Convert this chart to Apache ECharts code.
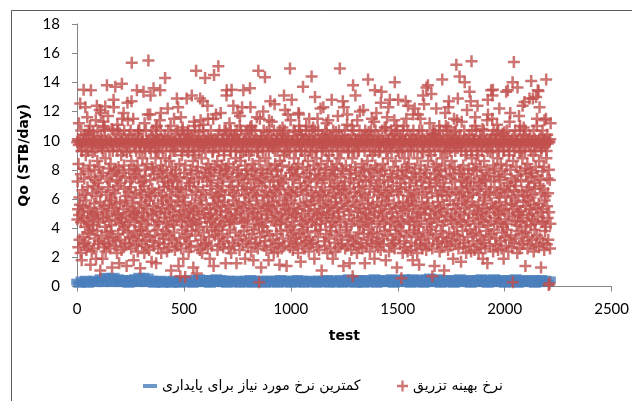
<!DOCTYPE html>
<html><head><meta charset="utf-8">
<script src="https://cdn.jsdelivr.net/npm/echarts@6/dist/echarts.min.js"></script>
<style>html,body{margin:0;padding:0;background:#fff}#c{width:632px;height:401px}</style>
</head><body><div id="c"></div>
<script>
// ---- data ----
const xTicks = [0, 500, 1000, 1500, 2000, 2500];
const yTicks = [0, 2, 4, 6, 8, 10, 12, 14, 16, 18];
const seriesNames = ['کمترین نرخ مورد نیاز برای پایداری', 'نرخ بهینه تزریق'];
const axisNames = ['test', 'Qo (STB/day)'];
// optimum injection rate, one value per test (test 1 .. 2215)
const redValues = [
9.9,4.6,7.2,10.1,5.3,2.7,8.4,9.7,11.2,4.9,6.1,3.2,10.0,5.6,12.55,9.8,2.3,7.7,4.4,10.7,9.3,1.8,5.1,9.3,6.6,
3.4,10.0,8.1,5.5,9.9,13.5,4.7,2.9,7.4,10.4,6.3,9.7,4.1,12.3,3.0,9.0,10.1,5.9,2.5,9.8,10.4,4.5,11.6,6.8,3.7,
9.3,5.2,2.8,7.9,10.7,4.3,10.5,9.9,3.6,8.3,11.0,5.4,1.5,9.7,13.45,4.8,7.5,10.0,2.4,6.4,9.8,3.9,9.2,5.0,10.6,
4.2,9.9,6.9,2.6,10.1,5.7,8.0,3.3,9.3,7.3,4.9,10.0,11.4,1.9,6.2,9.8,5.1,12.4,3.8,8.6,10.7,4.6,7.1,2.9,9.7,
6.7,3.1,10.0,8.2,4.4,12.1,9.9,5.8,1.1,7.6,10.3,11.9,9.7,6.5,3.5,9.5,10.1,5.3,1.9,7.8,9.3,4.7,11.3,11.0,2.7,
9.8,5.5,10.9,3.0,10.7,4.1,12.35,8.8,2.4,9.9,6.3,5.0,10.0,3.7,13.8,7.4,4.8,9.7,2.9,11.7,6.8,10.1,5.6,8.1,3.3,
4.5,9.3,7.2,2.6,10.0,5.9,8.4,3.8,9.9,6.1,4.2,10.8,7.7,1.3,9.8,5.2,9.3,3.4,10.7,6.6,12.8,12.3,9.7,7.9,5.4,
2.8,10.1,6.4,13.7,4.6,9.9,8.0,3.1,5.7,10.0,7.3,2.3,9.3,11.1,4.9,6.9,10.7,3.6,8.2,5.0,9.8,1.6,7.6,4.3,10.5,
5.8,9.7,3.2,7.1,10.0,4.7,9.0,2.5,9.9,13.9,11.5,4.4,10.1,7.8,3.9,9.3,5.3,11.9,2.7,8.3,10.7,6.7,4.1,9.8,5.9,
3.0,7.5,9.9,4.8,10.0,6.2,1.4,9.2,9.7,5.5,12.6,3.7,11.4,10.1,4.2,6.5,9.8,2.9,8.0,10.4,5.1,3.4,9.3,7.2,4.6,
10.7,6.8,2.6,8.6,12.7,15.35,9.9,5.7,7.4,3.3,10.0,4.9,11.5,6.1,1.8,9.7,8.1,5.2,3.8,10.1,7.7,4.4,9.8,6.4,2.8,
5.0,9.3,7.9,3.5,13.45,10.0,4.7,8.3,2.4,9.9,10.5,10.7,5.4,3.1,7.5,10.7,4.1,9.2,9.7,6.6,1.25,5.8,9.8,3.9,7.1,
10.1,4.5,6.3,2.9,9.9,8.8,5.1,10.0,3.6,7.2,13.35,4.8,9.7,6.9,2.3,11.2,8.0,5.6,9.3,3.2,7.6,10.7,4.3,6.1,9.8,
2.7,8.4,5.3,10.0,3.8,11.8,9.9,4.6,15.5,6.5,10.1,2.5,9.5,5.9,9.7,3.4,11.8,7.3,13.1,9.3,6.2,10.3,5.0,1.7,8.2,
9.8,6.7,3.1,10.7,4.9,8.1,5.5,13.6,9.9,2.8,7.7,10.0,4.2,6.4,3.5,9.7,8.8,5.2,10.9,1.6,10.4,9.3,4.5,11.0,10.1,
3.9,7.4,9.9,5.7,2.6,9.2,10.0,4.4,6.6,9.7,3.0,11.4,7.9,13.45,5.1,10.7,11.9,8.3,2.3,9.8,6.2,5.4,10.1,7.5,3.6,
9.3,5.9,8.0,3.3,10.0,6.8,4.7,9.9,2.9,7.2,10.3,14.3,5.0,8.8,3.8,9.7,6.1,4.3,10.1,7.8,2.4,9.8,5.6,12.2,6.9,
4.1,10.7,7.1,2.7,9.9,5.3,8.6,3.5,10.0,6.3,4.8,9.3,11.0,7.6,1.1,5.8,9.8,8.2,3.2,10.1,6.7,4.5,9.7,7.3,5.1,
9.3,3.7,9.9,11.5,4.2,10.0,7.7,2.5,9.3,5.5,10.5,3.0,8.0,6.5,9.8,4.6,12.9,7.2,2.8,10.7,5.9,9.7,12.3,6.8,1.4,
10.1,6.2,4.9,8.4,3.3,9.9,7.5,0.7,5.2,10.0,11.6,2.6,6.7,9.3,4.4,9.0,3.9,10.7,10.9,5.6,9.8,1.9,6.1,10.4,4.8,
7.8,9.7,3.4,5.8,10.0,0.65,8.3,4.1,9.9,6.6,2.9,10.1,12.9,5.0,7.4,3.6,9.3,10.5,4.5,10.7,9.2,2.4,9.8,5.3,7.1,
3.1,10.0,6.9,4.7,9.9,8.0,2.7,5.5,10.3,7.7,3.8,13.1,9.7,6.3,4.2,10.1,8.6,5.1,1.3,9.3,7.2,11.3,4.6,9.8,11.0,
5.7,9.0,10.7,3.5,6.5,9.9,14.8,4.3,7.9,0.9,10.0,5.2,9.7,2.8,8.2,6.8,10.1,3.9,4.9,9.3,7.4,10.6,5.9,2.5,9.8,
12.9,4.4,11.4,9.9,3.2,6.1,10.0,8.8,5.4,2.3,9.7,7.5,12.7,10.7,6.6,11.1,3.7,9.5,9.8,5.0,2.9,10.1,7.8,14.3,4.7,
9.3,6.3,3.0,8.1,10.0,5.6,4.1,9.9,7.2,12.4,2.6,10.3,11.5,8.4,4.8,9.7,3.4,7.6,10.1,5.3,1.9,9.8,6.9,4.4,8.0,
10.7,5.0,7.3,2.8,9.9,6.4,3.9,10.0,9.2,4.6,9.3,11.5,5.7,1.4,7.8,14.5,9.8,6.1,3.5,10.1,4.3,8.2,5.4,9.7,11.8,
3.8,9.9,6.7,4.9,10.0,8.6,2.5,5.9,10.4,7.1,15.1,3.3,9.3,6.2,4.1,10.7,8.0,5.2,9.8,2.9,7.6,11.9,4.7,6.5,9.7,
5.5,8.3,10.1,3.6,6.9,9.9,4.2,7.4,2.7,10.0,5.8,9.3,9.0,3.1,10.7,6.3,4.5,9.8,7.9,1.6,10.7,5.1,8.1,13.1,13.45,
9.7,10.5,3.4,10.0,7.7,4.8,9.9,5.6,8.4,2.6,10.1,6.6,11.2,3.9,7.2,9.3,4.4,5.3,10.7,9.3,2.3,9.8,13.5,6.8,4.6,
7.5,10.0,3.0,5.9,9.9,12.4,8.2,4.3,6.4,10.3,2.8,9.7,10.4,5.0,10.1,3.7,8.8,6.2,9.3,4.9,1.6,10.7,7.8,5.5,9.8,
11.9,6.9,10.1,8.0,3.2,9.9,5.7,7.3,10.0,2.5,11.0,11.7,4.7,9.3,8.6,3.5,10.7,5.2,7.6,9.8,4.4,12.3,6.6,2.9,9.7,
9.2,5.4,13.45,10.0,3.8,7.1,9.9,4.5,6.3,10.1,1.9,8.3,5.8,9.3,7.7,3.1,10.5,6.7,4.1,9.8,8.0,5.0,10.7,2.7,7.4,
9.7,4.6,6.1,10.0,9.0,3.3,5.6,9.9,13.6,10.9,12.3,10.1,6.8,2.4,9.3,11.0,5.3,7.9,3.6,10.7,8.4,4.8,9.8,6.4,1.8,
10.0,7.3,3.9,5.1,9.9,8.1,2.9,6.6,10.7,4.3,9.7,7.6,5.9,3.0,10.1,11.6,6.2,4.7,9.2,9.3,2.6,5.4,14.8,7.1,9.8,
4.2,0.3,8.6,10.0,11.5,3.4,9.9,7.4,5.0,10.3,1.3,8.0,9.7,4.6,6.9,10.1,3.7,5.7,9.3,7.8,12.0,4.1,10.7,6.3,2.8,
9.8,5.5,7.2,14.35,3.1,10.0,8.8,4.4,6.5,9.9,2.5,10.6,5.2,7.7,3.8,9.7,6.1,4.9,10.1,8.3,1.8,9.3,11.4,5.6,10.7,
3.5,6.8,9.9,12.7,8.1,10.0,5.3,2.7,7.5,9.7,11.3,4.7,6.2,10.1,3.2,9.5,5.8,9.8,7.3,2.3,10.7,4.5,6.6,12.5,9.3,
5.1,8.4,2.9,10.0,6.4,4.2,9.9,7.9,3.6,10.4,5.5,9.3,8.0,2.4,6.9,10.1,4.8,7.2,3.0,9.8,5.9,1.5,10.7,8.6,4.3,
9.7,6.7,3.8,10.0,7.6,5.0,2.6,9.9,8.3,4.6,10.9,10.5,3.3,10.1,7.1,5.6,9.3,13.1,9.0,2.8,10.7,6.3,12.1,5.3,9.8,
7.4,4.4,10.0,6.1,1.4,9.2,9.9,5.7,3.9,10.3,11.8,4.9,9.7,6.6,3.1,10.1,8.2,5.2,9.3,2.7,14.95,7.8,4.1,11.4,6.4,
9.8,3.5,5.9,12.8,10.0,8.0,4.7,6.8,2.5,9.9,7.3,3.7,10.7,5.4,8.8,4.2,9.7,6.2,10.6,2.9,7.6,5.0,9.3,3.3,8.1,
4.8,10.1,6.5,3.0,9.9,7.7,5.3,10.0,2.3,8.4,11.9,9.7,11.8,11.0,3.6,10.7,7.1,5.7,9.8,4.5,1.7,9.3,6.7,10.4,3.9,
10.4,9.3,5.0,2.8,10.0,8.2,13.7,4.3,6.3,9.9,3.4,7.5,10.1,5.5,2.6,9.0,9.7,4.6,6.9,10.7,3.1,11.0,5.8,7.8,9.8,
4.1,6.6,10.0,3.7,8.6,9.9,5.2,7.2,2.4,10.3,11.5,4.8,9.3,8.0,3.2,10.1,5.6,7.4,9.7,2.9,6.4,14.4,4.4,10.7,9.2,
5.9,9.8,3.0,10.9,10.0,4.6,8.3,6.2,9.9,1.9,5.3,10.7,13.0,7.7,3.8,9.3,6.8,4.2,10.1,8.8,5.0,2.7,9.7,7.3,11.5,
3.4,6.1,10.7,8.1,4.9,9.9,2.5,7.6,10.0,5.7,3.9,9.8,6.5,12.2,4.3,8.4,10.1,5.1,1.1,9.3,7.1,4.7,10.4,6.3,9.5,
9.7,12.3,5.5,10.0,7.4,3.1,9.9,6.6,8.0,2.8,10.7,4.5,5.9,9.3,7.8,3.6,11.2,10.5,9.8,4.9,2.3,8.6,10.1,5.4,11.4,
6.2,10.0,3.3,9.0,5.0,9.9,7.3,4.1,10.3,2.6,6.8,9.7,5.6,3.8,8.2,12.8,10.1,4.4,7.6,9.3,1.9,6.4,10.7,5.2,9.8,
8.0,4.7,6.9,10.0,3.0,7.7,9.9,5.8,2.4,10.6,6.1,4.2,9.7,8.4,3.5,10.1,5.4,7.1,9.3,11.7,4.8,2.7,9.8,6.7,10.7,
5.1,8.8,3.7,14.95,9.9,6.3,4.4,10.0,7.5,2.9,9.3,5.7,10.3,8.1,3.2,6.6,9.8,12.7,7.9,10.1,1.4,5.3,12.3,6.9,9.7,
4.6,10.7,7.2,2.6,9.9,5.9,8.3,3.9,10.0,6.4,4.1,9.7,11.1,11.8,2.8,5.5,10.1,9.2,3.4,9.3,6.1,4.9,9.8,7.7,1.6,
10.0,6.7,3.5,8.0,5.2,9.9,7.4,2.5,4.3,10.4,11.0,9.7,8.8,0.7,3.1,13.8,5.8,10.7,7.1,4.5,9.3,2.9,6.5,10.1,9.8,
8.2,13.1,5.6,9.9,7.8,3.3,10.0,6.2,2.3,9.7,11.4,4.7,9.3,5.1,10.1,3.7,6.8,9.3,7.3,2.7,10.7,5.4,12.0,4.2,9.8,
6.4,10.0,3.0,7.6,9.9,4.8,8.4,5.9,10.3,2.6,6.9,9.7,4.1,12.1,7.9,3.6,10.1,5.3,8.1,9.3,1.6,6.3,10.7,4.6,7.2,
9.8,5.0,2.8,10.0,10.4,4.4,9.9,8.6,3.2,6.1,14.2,5.7,9.7,10.6,3.9,7.5,4.9,10.1,6.7,2.4,9.3,8.0,5.4,3.4,10.7,
7.3,4.3,9.9,11.5,10.0,2.9,9.0,5.6,9.7,3.7,7.8,10.1,4.7,6.5,11.3,1.9,9.3,13.45,5.1,8.3,10.7,3.0,6.9,9.8,11.9,
10.0,8.1,3.6,5.8,9.9,7.1,2.7,4.5,10.3,6.3,9.7,9.2,3.1,5.2,10.1,7.6,4.1,9.3,6.6,2.5,12.6,9.8,5.5,13.35,7.9,
4.8,10.7,6.1,3.3,9.9,8.4,5.0,10.0,2.9,7.3,4.3,9.7,6.8,10.9,3.8,8.0,5.6,10.1,1.8,10.9,9.3,4.6,6.4,9.8,11.6,
5.9,3.5,8.8,10.0,7.2,12.3,9.9,6.2,2.4,10.1,5.3,9.5,12.8,3.9,9.7,7.7,4.4,6.6,10.7,2.8,9.3,5.1,7.5,10.4,3.2,
9.8,6.9,4.7,10.0,8.2,3.0,5.7,9.9,11.4,2.6,14.0,10.5,10.1,4.2,8.6,3.6,9.7,5.4,11.0,7.4,1.3,10.7,6.5,4.8,9.3,
7.9,12.8,4.1,6.3,10.0,3.4,9.2,9.9,5.5,2.9,7.1,10.3,4.5,9.7,6.7,3.8,0.57,10.1,8.0,5.0,9.3,7.6,2.3,10.7,5.8,
4.3,9.8,11.0,10.0,3.1,7.4,8.8,5.2,9.9,2.7,6.8,12.7,10.1,7.9,11.5,3.5,9.7,5.7,8.2,10.7,2.4,6.2,12.4,4.6,9.3,
8.4,5.3,10.0,3.7,7.1,9.9,4.4,6.6,10.4,2.5,9.3,5.9,9.7,3.0,7.5,10.1,4.8,6.1,9.8,1.8,11.8,5.5,10.7,7.8,3.9,
9.3,6.4,4.2,12.2,10.0,8.1,2.8,5.6,9.9,7.3,3.4,10.1,6.9,4.7,9.7,2.3,8.8,5.0,10.3,11.8,3.6,9.8,6.3,4.1,1.5,
10.7,7.7,5.1,2.9,9.9,11.5,8.3,4.5,10.0,3.2,7.2,9.3,5.8,10.7,2.6,6.7,9.7,13.1,9.2,3.7,10.1,5.4,12.5,7.5,9.8,
4.9,8.0,3.0,10.0,6.5,5.3,9.9,2.5,13.65,7.8,10.3,4.3,6.1,9.7,3.5,13.8,8.6,5.7,10.1,2.8,7.1,9.3,4.6,11.2,6.8,
9.8,3.9,7.4,10.0,5.0,9.0,13.2,4.1,9.9,6.4,2.6,0.7,10.7,10.4,5.5,3.3,9.7,8.2,10.5,10.1,4.7,1.4,9.3,7.7,10.5,
5.2,6.9,3.6,9.9,12.2,8.4,10.0,4.4,7.3,2.9,9.7,5.8,6.2,10.1,3.1,8.0,4.9,9.8,11.0,7.5,2.4,10.7,5.4,6.6,9.3,
3.8,10.0,7.9,5.1,9.9,2.7,6.3,14.2,8.8,4.2,10.3,3.4,7.1,9.7,5.6,10.1,1.1,6.8,4.5,9.3,8.3,11.9,3.0,9.8,11.0,
7.6,4.8,10.7,6.2,3.3,9.9,9.2,5.3,10.0,2.5,10.9,12.3,9.7,12.7,6.5,3.7,10.1,8.1,5.9,9.3,2.8,7.4,4.6,10.4,9.8,
5.0,8.6,3.1,10.0,6.7,9.9,4.3,7.7,1.9,10.1,5.6,9.7,11.5,3.6,8.2,10.6,4.8,7.2,9.3,2.9,6.4,10.7,5.3,15.2,9.8,
4.1,11.4,10.0,3.5,9.5,12.9,5.7,9.9,2.6,6.3,10.1,4.6,7.8,14.4,3.2,9.7,5.1,10.3,8.0,6.8,1.7,9.3,4.4,11.3,7.3,
9.8,5.9,3.8,10.0,6.5,8.3,2.7,9.9,4.9,7.5,10.7,3.0,14.0,6.1,5.4,9.7,9.0,4.2,10.1,2.3,7.1,9.3,5.6,12.1,6.9,
3.4,10.0,7.7,4.5,9.9,6.2,8.1,2.8,10.4,5.0,13.35,9.7,3.9,6.7,10.1,12.7,7.4,2.4,9.3,15.45,5.8,8.8,10.7,3.6,9.8,
6.4,4.7,10.0,8.0,3.1,9.9,5.5,7.2,2.5,10.1,11.0,11.6,4.3,9.7,8.4,3.7,10.7,5.2,7.9,9.3,2.9,6.6,12.4,4.9,9.8,
9.0,5.6,2.3,10.0,7.1,4.1,9.9,6.3,3.5,10.3,8.2,5.0,9.7,2.7,6.9,10.1,4.6,7.6,9.3,3.2,10.8,5.4,1.9,9.8,7.4,
4.4,10.7,6.1,8.6,3.0,9.9,5.9,10.0,7.3,2.6,4.8,9.7,6.7,3.8,10.1,8.0,5.3,11.4,1.6,9.3,12.8,11.8,4.2,9.8,6.5,
9.9,3.4,7.8,5.1,10.0,2.8,6.3,9.2,4.5,10.1,7.2,13.45,3.6,9.7,5.7,10.4,11.5,13.1,9.3,13.5,2.4,8.3,10.7,5.4,7.6,
3.9,6.8,10.0,4.7,9.9,8.1,2.9,5.5,10.1,10.4,3.3,9.7,6.4,11.1,4.3,8.8,9.8,5.0,2.5,10.7,7.5,4.9,9.3,6.1,12.2,
5.8,9.8,7.3,3.1,10.0,4.4,8.4,6.6,9.9,2.6,5.3,10.3,7.9,3.7,9.7,10.5,4.1,10.1,9.3,1.9,6.7,9.3,5.2,10.6,3.4,
7.7,4.6,10.0,6.2,2.8,9.9,13.35,5.6,8.3,3.9,10.7,7.1,4.3,9.7,13.45,6.5,2.4,10.1,5.0,9.0,9.3,3.2,11.3,6.9,9.8,
11.9,8.0,10.0,5.7,3.5,9.9,7.4,6.1,2.7,10.1,4.8,14.0,0.3,9.7,8.6,5.3,10.3,15.4,3.0,6.6,9.3,7.2,4.5,10.7,5.9,
9.8,3.3,6.9,10.0,8.2,4.2,9.9,5.5,2.3,13.65,7.6,10.1,4.9,6.3,3.8,9.7,11.7,5.1,9.2,2.6,10.7,11.0,7.9,4.4,9.3,
5.2,7.3,10.0,3.6,9.9,6.5,2.9,8.8,12.4,4.7,10.1,5.8,9.7,10.9,3.1,10.4,6.2,12.65,4.1,9.3,8.1,1.4,10.7,5.5,7.7,
3.7,9.8,6.6,4.5,10.0,8.4,2.6,5.9,9.9,7.2,3.4,10.1,4.9,6.8,9.7,12.9,8.0,5.3,10.3,2.9,6.1,9.3,4.2,14.1,7.5,
10.0,5.0,7.8,3.2,9.9,6.3,12.9,4.6,9.0,10.7,2.4,5.6,9.7,7.1,3.9,10.1,6.7,4.3,9.3,8.2,2.8,13.0,5.4,9.8,11.0,
11.5,3.5,10.0,7.6,13.45,4.8,9.9,13.4,5.7,2.7,8.6,10.1,12.3,6.9,9.7,3.3,7.3,10.3,5.1,1.3,9.3,6.4,9.5,4.4,9.8,
7.9,10.7,5.3,3.0,9.9,6.7,4.5,8.2,10.0,2.5,11.4,5.9,9.7,3.8,10.1,6.2,4.1,11.5,14.2,8.8,9.3,2.9,5.5,10.4,7.4,
4.7,9.8,6.4,3.2,10.0,0.1,8.0,5.1,9.9,0.2,7.3,2.6,10.1,4.3,11.2
];
// minimum rate required for stability, sampled every 10 tests (tests 1, 11, 21 ...)
const blueFirstTest = 1;
const blueTestStep = 10;
const blueValues = [
0.3,0.15,0.45,0.2,0.5,0.15,0.4,0.25,0.5,0.2,0.45,0.6,0.2,0.7,0.25,0.65,0.2,0.7,0.3,0.6,0.2,0.55,
0.2,0.5,0.15,0.55,0.25,0.6,0.2,0.7,0.25,0.7,0.2,0.65,0.3,0.5,0.15,0.45,0.2,0.5,0.15,0.45,0.25,0.4,
0.15,0.5,0.2,0.45,0.15,0.5,0.25,0.45,0.2,0.55,0.15,0.5,0.2,0.6,0.25,0.55,0.2,0.5,0.15,0.55,0.2,0.6,
0.25,0.55,0.2,0.5,0.15,0.5,0.2,0.45,0.25,0.5,0.15,0.45,0.2,0.5,0.2,0.55,0.15,0.5,0.25,0.45,0.2,0.5,
0.15,0.5,0.2,0.45,0.2,0.5,0.15,0.55,0.25,0.5,0.2,0.45,0.15,0.5,0.2,0.55,0.2,0.5,0.15,0.45,0.25,0.5,
0.2,0.45,0.15,0.5,0.2,0.5,0.25,0.55,0.15,0.5,0.2,0.45,0.2,0.55,0.15,0.5,0.25,0.6,0.2,0.5,0.15,0.55,
0.2,0.5,0.15,0.55,0.25,0.5,0.2,0.6,0.15,0.55,0.2,0.5,0.25,0.55,0.2,0.6,0.15,0.5,0.2,0.55,0.25,0.6,
0.2,0.55,0.15,0.6,0.25,0.5,0.2,0.55,0.15,0.6,0.2,0.65,0.25,0.55,0.2,0.6,0.15,0.55,0.2,0.5,0.25,0.55,
0.15,0.55,0.2,0.6,0.25,0.5,0.2,0.55,0.15,0.5,0.2,0.55,0.25,0.6,0.2,0.5,0.15,0.55,0.2,0.6,0.25,0.5,
0.2,0.55,0.15,0.5,0.25,0.55,0.2,0.6,0.15,0.5,0.2,0.55,0.25,0.5,0.2,0.55,0.15,0.5,0.2,0.55,0.25,0.5,
0.2,0.45
];

// ---- chart ----
const plusPath = 'path://M4.75,0H7.25V4.75H12V7.25H7.25V12H4.75V7.25H0V4.75H4.75Z';
const axisColor = '#868686';
const fontFam = 'Lato, "Liberation Sans", sans-serif';
const titleFont = '"DejaVu Sans", sans-serif';
const arFont = '"DejaVu Sans", sans-serif';

const chart = echarts.init(document.getElementById('c'), null, {renderer: 'canvas'});
chart.setOption({
  animation: false,
  backgroundColor: '#fff',
  graphic: [{
    type: 'rect', silent: true, z: -10,
    shape: {x: 11.5, y: 10.5, width: 700, height: 500},
    style: {fill: 'none', stroke: '#5a5a5a', lineWidth: 1}
  }],
  grid: {left: 77, right: 20, top: 24, bottom: 114.5, containLabel: false},
  xAxis: {
    type: 'value', min: xTicks[0], max: xTicks[xTicks.length - 1], interval: xTicks[1] - xTicks[0],
    name: axisNames[0], nameLocation: 'middle', nameGap: 43,
    nameTextStyle: {fontFamily: titleFont, fontWeight: 'bold', fontSize: 14, color: '#000'},
    axisLine: {show: true, onZero: false, lineStyle: {color: axisColor, width: 1}},
    axisTick: {show: true, length: 5, lineStyle: {color: axisColor}},
    axisLabel: {fontFamily: fontFam, fontSize: 15, color: '#000', margin: 15, formatter: v => String(v)},
    splitLine: {show: false}
  },
  yAxis: {
    type: 'value', min: yTicks[0], max: yTicks[yTicks.length - 1], interval: yTicks[1] - yTicks[0],
    name: axisNames[1], nameLocation: 'middle', nameGap: 41, nameRotate: 90,
    nameTextStyle: {fontFamily: titleFont, fontWeight: 'bold', fontSize: 14, color: '#000'},
    axisLine: {show: true, lineStyle: {color: axisColor, width: 1}},
    axisTick: {show: true, length: 5, lineStyle: {color: axisColor}},
    axisLabel: {fontFamily: fontFam, fontSize: 15, color: '#000', margin: 17, formatter: v => String(v)},
    splitLine: {show: false}
  },
  legend: [{
    data: [seriesNames[0]], left: 138, top: 374, icon: 'rect', itemWidth: 14, itemHeight: 4,
    itemGap: 0, selectedMode: false,
    textStyle: {fontFamily: arFont, fontSize: 14, color: '#000'}
  }, {
    data: [{name: seriesNames[1], icon: plusPath}], left: 392, top: 374, itemWidth: 11, itemHeight: 11,
    itemGap: 0, selectedMode: false,
    textStyle: {fontFamily: arFont, fontSize: 14, color: '#000'}
  }],
  series: [{
    name: seriesNames[0], type: 'scatter', symbol: 'rect', symbolSize: [12, 7],
    itemStyle: {color: '#4A7EBB'}, silent: true, z: 2,
    data: blueValues.map((v, i) => [blueFirstTest + i * blueTestStep, v])
  }, {
    name: seriesNames[1], type: 'scatter', symbol: plusPath, symbolSize: 12,
    itemStyle: {color: '#C0504D'}, silent: true, z: 3,
    data: redValues.map((v, i) => [i + 1, v])
  }]
});
</script>
</body></html>
